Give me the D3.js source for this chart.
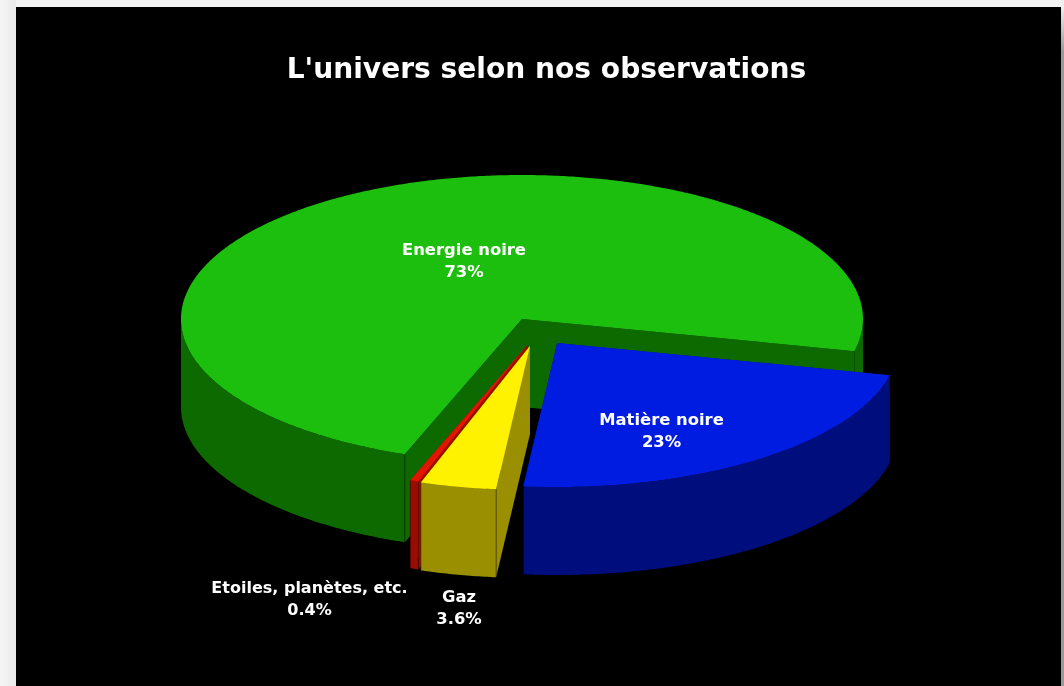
<!DOCTYPE html>
<html><head><meta charset="utf-8">
<script src="https://cdn.jsdelivr.net/npm/d3@7/dist/d3.min.js"></script>
<style>
html,body{margin:0;padding:0;width:1064px;height:686px;overflow:hidden;background:#f3f3f3}
svg{display:block}
text{font-family:"DejaVu Sans";font-weight:bold;fill:#fff;text-anchor:middle}
</style></head><body>
<svg id="c" width="1064" height="686"></svg>
<script>
const chartTitle = "L'univers selon nos observations";
const categories = ["Matière noire","Gaz","Etoiles, planètes, etc.","Energie noire"];
const values = [23,3.6,0.4,73];
const valueLabels = ["23%","3.6%","0.4%","73%"];
const topColors = ["#031ee0","#fff200","#e01400","#1fbf0b"];
const sideColors = ["#000b7c","#998f00","#990c00","#0f6a00"];

const W=1064,H=686, rx=341, ry=144, depth=88;
const centers=[[557.2,343],[530,346],[527.5,345],[522,319]];
const labelPos=[[661.5,419],[459,596],[309.5,587],[464,249]];
const svg=d3.select("#c");

const defs=svg.append("defs");
defs.append("filter").attr("id","soft").attr("x","-5%").attr("y","-5%").attr("width","110%").attr("height","110%")
  .append("feGaussianBlur").attr("stdDeviation",0.45);
const gl=defs.append("linearGradient").attr("id","edgeL");
gl.append("stop").attr("offset","0").attr("stop-color","#f6f6f6");
gl.append("stop").attr("offset","1").attr("stop-color","#eaeaea");
const gr=defs.append("linearGradient").attr("id","edgeR").attr("gradientUnits","userSpaceOnUse").attr("x1",0).attr("x2",0).attr("y1",7).attr("y2",52);
gr.append("stop").attr("offset","0").attr("stop-color","#eeeeee");
gr.append("stop").attr("offset","1").attr("stop-color","#999999");
svg.append("rect").attr("width",16).attr("height",H).attr("fill","url(#edgeL)");
svg.append("rect").attr("x",1061).attr("width",3).attr("height",H).attr("fill","url(#edgeR)");
svg.append("rect").attr("x",16).attr("y",7).attr("width",1045).attr("height",H-7).attr("fill","#000");

const chart=svg.append("g").attr("filter","url(#soft)");
const deg=Math.PI/180;
const arcs=d3.pie().sort(null).value(d=>d).startAngle(102.9*deg).endAngle(462.9*deg)(values);
const xs=d3.scaleLinear().domain([-1,1]).range([-rx,rx]);
const ys=d3.scaleLinear().domain([-1,1]).range([-ry,ry]);
const px=a=>xs(Math.sin(a)), py=a=>ys(-Math.cos(a));
const line=d3.line().x(d=>d[0]).y(d=>d[1]);
const sample=(a,b)=>{const n=Math.max(4,Math.ceil(Math.abs(b-a)/(0.5*deg)));return d3.range(n+1).map(i=>a+(b-a)*i/n);};
const topPath=d=>line([[0,0],...sample(d.startAngle,d.endAngle).map(a=>[px(a),py(a)])])+"Z";
const frontSpans=[[90*deg,270*deg],[450*deg,630*deg]];
const bandPath=(a,b)=>{const t=sample(a,b);
  return line([...t.map(a=>[px(a),py(a)]),...t.slice().reverse().map(a=>[px(a),py(a)+depth])])+"Z";};
const wallPath=a=>line([[0,0],[px(a),py(a)],[px(a),py(a)+depth],[0,depth]])+"Z";

// back to front: green, red, yellow, blue
[3,2,1,0].forEach(i=>{
  const d=arcs[i];
  const g=chart.append("g").attr("transform",`translate(${centers[i][0]},${centers[i][1]})`);
  g.append("path").attr("d",wallPath(d.startAngle)).attr("fill",sideColors[i]);
  g.append("path").attr("d",wallPath(d.endAngle)).attr("fill",sideColors[i]);
  frontSpans.forEach(([lo,hi])=>{
    const a=Math.max(lo,d.startAngle), b=Math.min(hi,d.endAngle);
    if(b>a) g.append("path").attr("d",bandPath(a,b)).attr("fill",sideColors[i]);
  });
  [d.startAngle,d.endAngle].forEach(a=>{
    if(Math.cos(a)<-0.5) g.append("line").attr("x1",px(a)).attr("y1",py(a)).attr("x2",px(a)).attr("y2",py(a)+depth)
      .attr("stroke","#000").attr("stroke-opacity",.4).attr("stroke-width",1);
  });
  g.append("path").attr("d",topPath(d)).attr("fill",topColors[i]);
});

chart.append("text").attr("x",546.5).attr("y",78).attr("font-size",28.1).text(chartTitle);
categories.forEach((c,i)=>{
  const t=chart.append("text").attr("font-size",i===2?16:16.4);
  t.append("tspan").attr("x",labelPos[i][0]).attr("y",labelPos[i][1]+6).text(c);
  t.append("tspan").attr("x",labelPos[i][0]).attr("y",labelPos[i][1]+28).text(valueLabels[i]);
});
</script></body></html>
